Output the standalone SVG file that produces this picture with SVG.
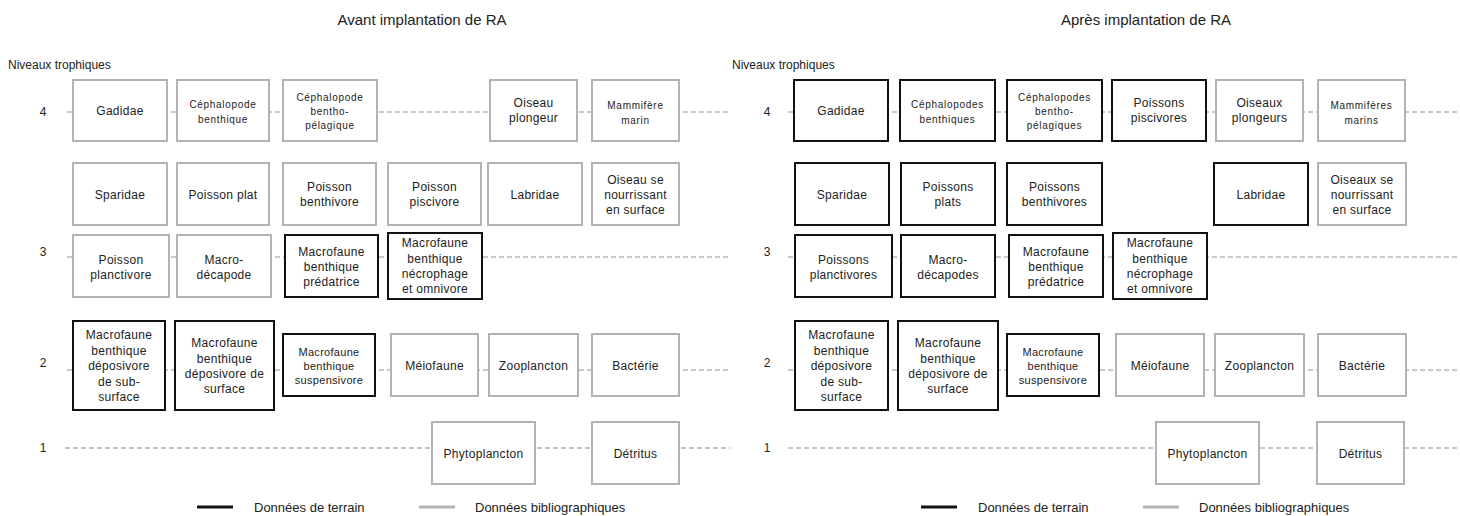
<svg xmlns="http://www.w3.org/2000/svg" width="1460" height="516" viewBox="0 0 1460 516">
<style>
text{font-family:"Liberation Sans",Arial,sans-serif;fill:#222;}
.t{font-size:12px;text-anchor:middle;letter-spacing:0.3px;}
.s{font-size:10px;text-anchor:middle;letter-spacing:0.7px;}
.m{font-size:11px;text-anchor:middle;letter-spacing:0.3px;}
.lab{font-size:12px;}
.num{font-size:12px;text-anchor:middle;}
.title{font-size:15px;text-anchor:middle;}
.leg{font-size:13px;}
.g{fill:#fff;stroke:#b3b3b3;stroke-width:2;}
.k{fill:#fff;stroke:#111;stroke-width:2;}
.lvl{stroke:#919191;stroke-width:1.2;stroke-dasharray:5 3;fill:none;}
</style>
<rect width="1460" height="516" fill="#fff"/>

<text class="title" x="422" y="25">Avant implantation de RA</text>
<text class="title" x="1146" y="25">Après implantation de RA</text>
<text class="lab" x="8" y="69">Niveaux trophiques</text>
<text class="lab" x="732" y="69">Niveaux trophiques</text>
<text class="num" x="43" y="116">4</text>
<text class="num" x="43" y="256">3</text>
<text class="num" x="43" y="367">2</text>
<text class="num" x="43" y="452">1</text>
<text class="num" x="767" y="116">4</text>
<text class="num" x="767" y="256">3</text>
<text class="num" x="767" y="367">2</text>
<text class="num" x="767" y="452">1</text>

<g id="connectors">
<line class="lvl" x1="67" y1="112" x2="730" y2="112"/>
<line class="lvl" x1="67" y1="257" x2="730" y2="257"/>
<line class="lvl" x1="67" y1="370" x2="730" y2="370"/>
<line class="lvl" x1="65" y1="448" x2="730" y2="448"/>
<line class="lvl" x1="788" y1="112" x2="1460" y2="112"/>
<line class="lvl" x1="788" y1="257" x2="1460" y2="257"/>
<line class="lvl" x1="788" y1="370" x2="1460" y2="370"/>
<line class="lvl" x1="788" y1="448" x2="1460" y2="448"/>
</g>

<!-- LEFT PANEL -->
<g id="L-gadidae"><rect class="g" x="73" y="80" width="94" height="61"/><text class="t" x="120" y="115">Gadidae</text></g>
<g id="L-ceph-benth"><rect class="g" x="177" y="80" width="92" height="61"/><text class="s" x="223"><tspan x="223" y="107.5">Céphalopode</tspan><tspan x="223" y="122.5">benthique</tspan></text></g>
<g id="L-ceph-pelag"><rect class="g" x="283" y="80" width="94" height="61"/><text class="s"><tspan x="330" y="100.5">Céphalopode</tspan><tspan x="330" y="114.5">bentho-</tspan><tspan x="330" y="128.5">pélagique</tspan></text></g>
<g id="L-oiseau-plongeur"><rect class="g" x="490" y="80" width="87" height="61"/><text class="t"><tspan x="533.5" y="107">Oiseau</tspan><tspan x="533.5" y="122">plongeur</tspan></text></g>
<g id="L-mammifere"><rect class="g" x="592" y="80" width="87" height="61"/><text class="s"><tspan x="635.5" y="108.5">Mammifère</tspan><tspan x="635.5" y="123.5">marin</tspan></text></g>

<g id="L-sparidae"><rect class="g" x="73" y="163" width="94" height="62"/><text class="t" x="120" y="198.5">Sparidae</text></g>
<g id="L-poisson-plat"><rect class="g" x="177" y="163" width="92" height="62"/><text class="t" x="223" y="198.5">Poisson plat</text></g>
<g id="L-poisson-benthivore"><rect class="g" x="283" y="163" width="93" height="62"/><text class="t"><tspan x="329.5" y="191">Poisson</tspan><tspan x="329.5" y="206">benthivore</tspan></text></g>
<g id="L-poisson-piscivore"><rect class="g" x="388" y="163" width="93" height="62"/><text class="t"><tspan x="434.5" y="191">Poisson</tspan><tspan x="434.5" y="206">piscivore</tspan></text></g>
<g id="L-labridae"><rect class="g" x="488" y="163" width="94" height="62"/><text class="t" x="535" y="198.5">Labridae</text></g>
<g id="L-oiseau-surface"><rect class="g" x="592" y="163" width="87" height="62"/><text class="t"><tspan x="635.5" y="184">Oiseau se</tspan><tspan x="635.5" y="199">nourrissant</tspan><tspan x="635.5" y="214">en surface</tspan></text></g>

<g id="L-poisson-planctivore"><rect class="g" x="73" y="235" width="96" height="62"/><text class="t"><tspan x="121" y="263.5">Poisson</tspan><tspan x="121" y="278.5">planctivore</tspan></text></g>
<g id="L-macro-decapode"><rect class="g" x="177" y="235" width="94" height="62"/><text class="t"><tspan x="224" y="263.5">Macro-</tspan><tspan x="224" y="278.5">décapode</tspan></text></g>
<g id="L-predatrice"><rect class="k" x="285" y="235" width="93" height="62"/><text class="t"><tspan x="331.5" y="256">Macrofaune</tspan><tspan x="331.5" y="271">benthique</tspan><tspan x="331.5" y="286">prédatrice</tspan></text></g>
<g id="L-necrophage"><rect class="k" x="388" y="233" width="94" height="66"/><text class="t"><tspan x="435" y="247">Macrofaune</tspan><tspan x="435" y="262.5">benthique</tspan><tspan x="435" y="278">nécrophage</tspan><tspan x="435" y="293">et omnivore</tspan></text></g>

<g id="L-subsurface"><rect class="k" x="73" y="321" width="92" height="89"/><text class="t"><tspan x="119" y="339">Macrofaune</tspan><tspan x="119" y="354.5">benthique</tspan><tspan x="119" y="370">déposivore</tspan><tspan x="119" y="385.5">de sub-</tspan><tspan x="119" y="401">surface</tspan></text></g>
<g id="L-surface"><rect class="k" x="175" y="321" width="99" height="89"/><text class="t"><tspan x="224.5" y="347">Macrofaune</tspan><tspan x="224.5" y="362.5">benthique</tspan><tspan x="224.5" y="378">déposivore de</tspan><tspan x="224.5" y="393">surface</tspan></text></g>
<g id="L-suspensivore"><rect class="k" x="283" y="334" width="92" height="62"/><text class="m"><tspan x="329" y="356">Macrofaune</tspan><tspan x="329" y="370">benthique</tspan><tspan x="329" y="384">suspensivore</tspan></text></g>
<g id="L-meiofaune"><rect class="g" x="391" y="334" width="87" height="62"/><text class="t" x="434.5" y="369.5">Méiofaune</text></g>
<g id="L-zooplancton"><rect class="g" x="489" y="334" width="89" height="62"/><text class="t" x="533.5" y="369.5">Zooplancton</text></g>
<g id="L-bacterie"><rect class="g" x="592" y="334" width="87" height="62"/><text class="t" x="635.5" y="369.5">Bactérie</text></g>

<g id="L-phytoplancton"><rect class="g" x="432" y="422" width="103" height="62"/><text class="t" x="483.5" y="457.5">Phytoplancton</text></g>
<g id="L-detritus"><rect class="g" x="592" y="422" width="87" height="62"/><text class="t" x="635.5" y="457.5">Détritus</text></g>

<g id="L-legend">
<line x1="197" y1="507" x2="233" y2="507" stroke="#111" stroke-width="3"/>
<text class="leg" x="254" y="511.5">Données de terrain</text>
<line x1="419" y1="507" x2="455" y2="507" stroke="#b3b3b3" stroke-width="3"/>
<text class="leg" x="475" y="511.5">Données bibliographiques</text>
</g>

<!-- RIGHT PANEL -->
<g id="R-gadidae"><rect class="k" x="794" y="80" width="94" height="61"/><text class="t" x="841" y="115">Gadidae</text></g>
<g id="R-ceph-benth"><rect class="k" x="900" y="80" width="95" height="61"/><text class="s"><tspan x="947.5" y="107.5">Céphalopodes</tspan><tspan x="947.5" y="122.5">benthiques</tspan></text></g>
<g id="R-ceph-pelag"><rect class="k" x="1007" y="80" width="95" height="61"/><text class="s"><tspan x="1054.5" y="100.5">Céphalopodes</tspan><tspan x="1054.5" y="114.5">bentho-</tspan><tspan x="1054.5" y="128.5">pélagiques</tspan></text></g>
<g id="R-poissons-piscivores"><rect class="k" x="1112" y="80" width="94" height="61"/><text class="t"><tspan x="1159" y="107">Poissons</tspan><tspan x="1159" y="122">piscivores</tspan></text></g>
<g id="R-oiseaux-plongeurs"><rect class="g" x="1216" y="80" width="87" height="61"/><text class="t"><tspan x="1259.5" y="107">Oiseaux</tspan><tspan x="1259.5" y="122">plongeurs</tspan></text></g>
<g id="R-mammiferes"><rect class="g" x="1318" y="80" width="87" height="61"/><text class="s"><tspan x="1361.5" y="108.5">Mammifères</tspan><tspan x="1361.5" y="123.5">marins</tspan></text></g>

<g id="R-sparidae"><rect class="k" x="795" y="163" width="94" height="62"/><text class="t" x="842" y="198.5">Sparidae</text></g>
<g id="R-poissons-plats"><rect class="k" x="901" y="163" width="94" height="62"/><text class="t"><tspan x="948" y="191">Poissons</tspan><tspan x="948" y="206">plats</tspan></text></g>
<g id="R-poissons-benthivores"><rect class="k" x="1007" y="163" width="95" height="62"/><text class="t"><tspan x="1054.5" y="191">Poissons</tspan><tspan x="1054.5" y="206">benthivores</tspan></text></g>
<g id="R-labridae"><rect class="k" x="1214" y="163" width="94" height="62"/><text class="t" x="1261" y="198.5">Labridae</text></g>
<g id="R-oiseaux-surface"><rect class="g" x="1318" y="163" width="88" height="62"/><text class="t"><tspan x="1362" y="184">Oiseaux se</tspan><tspan x="1362" y="199">nourrissant</tspan><tspan x="1362" y="214">en surface</tspan></text></g>

<g id="R-poissons-planctivores"><rect class="k" x="795" y="235" width="97" height="62"/><text class="t"><tspan x="843.5" y="263.5">Poissons</tspan><tspan x="843.5" y="278.5">planctivores</tspan></text></g>
<g id="R-macro-decapodes"><rect class="k" x="901" y="235" width="94" height="62"/><text class="t"><tspan x="948" y="263.5">Macro-</tspan><tspan x="948" y="278.5">décapodes</tspan></text></g>
<g id="R-predatrice"><rect class="k" x="1009" y="235" width="94" height="62"/><text class="t"><tspan x="1056" y="256">Macrofaune</tspan><tspan x="1056" y="271">benthique</tspan><tspan x="1056" y="286">prédatrice</tspan></text></g>
<g id="R-necrophage"><rect class="k" x="1113" y="233" width="94" height="66"/><text class="t"><tspan x="1160" y="247">Macrofaune</tspan><tspan x="1160" y="262.5">benthique</tspan><tspan x="1160" y="278">nécrophage</tspan><tspan x="1160" y="293">et omnivore</tspan></text></g>

<g id="R-subsurface"><rect class="k" x="795" y="321" width="93" height="89"/><text class="t"><tspan x="841.5" y="339">Macrofaune</tspan><tspan x="841.5" y="354.5">benthique</tspan><tspan x="841.5" y="370">déposivore</tspan><tspan x="841.5" y="385.5">de sub-</tspan><tspan x="841.5" y="401">surface</tspan></text></g>
<g id="R-surface"><rect class="k" x="898" y="321" width="100" height="89"/><text class="t"><tspan x="948" y="347">Macrofaune</tspan><tspan x="948" y="362.5">benthique</tspan><tspan x="948" y="378">déposivore de</tspan><tspan x="948" y="393">surface</tspan></text></g>
<g id="R-suspensivore"><rect class="k" x="1007" y="334" width="92" height="62"/><text class="m"><tspan x="1053" y="356">Macrofaune</tspan><tspan x="1053" y="370">benthique</tspan><tspan x="1053" y="384">suspensivore</tspan></text></g>
<g id="R-meiofaune"><rect class="g" x="1116" y="334" width="88" height="62"/><text class="t" x="1160" y="369.5">Méiofaune</text></g>
<g id="R-zooplancton"><rect class="g" x="1215" y="334" width="89" height="62"/><text class="t" x="1259.5" y="369.5">Zooplancton</text></g>
<g id="R-bacterie"><rect class="g" x="1318" y="334" width="88" height="62"/><text class="t" x="1362" y="369.5">Bactérie</text></g>

<g id="R-phytoplancton"><rect class="g" x="1156" y="422" width="103" height="62"/><text class="t" x="1207.5" y="457.5">Phytoplancton</text></g>
<g id="R-detritus"><rect class="g" x="1317" y="422" width="87" height="62"/><text class="t" x="1360.5" y="457.5">Détritus</text></g>

<g id="R-legend">
<line x1="921" y1="507" x2="957" y2="507" stroke="#111" stroke-width="3"/>
<text class="leg" x="978" y="511.5">Données de terrain</text>
<line x1="1143" y1="507" x2="1179" y2="507" stroke="#b3b3b3" stroke-width="3"/>
<text class="leg" x="1199" y="511.5">Données bibliographiques</text>
</g>
</svg>
